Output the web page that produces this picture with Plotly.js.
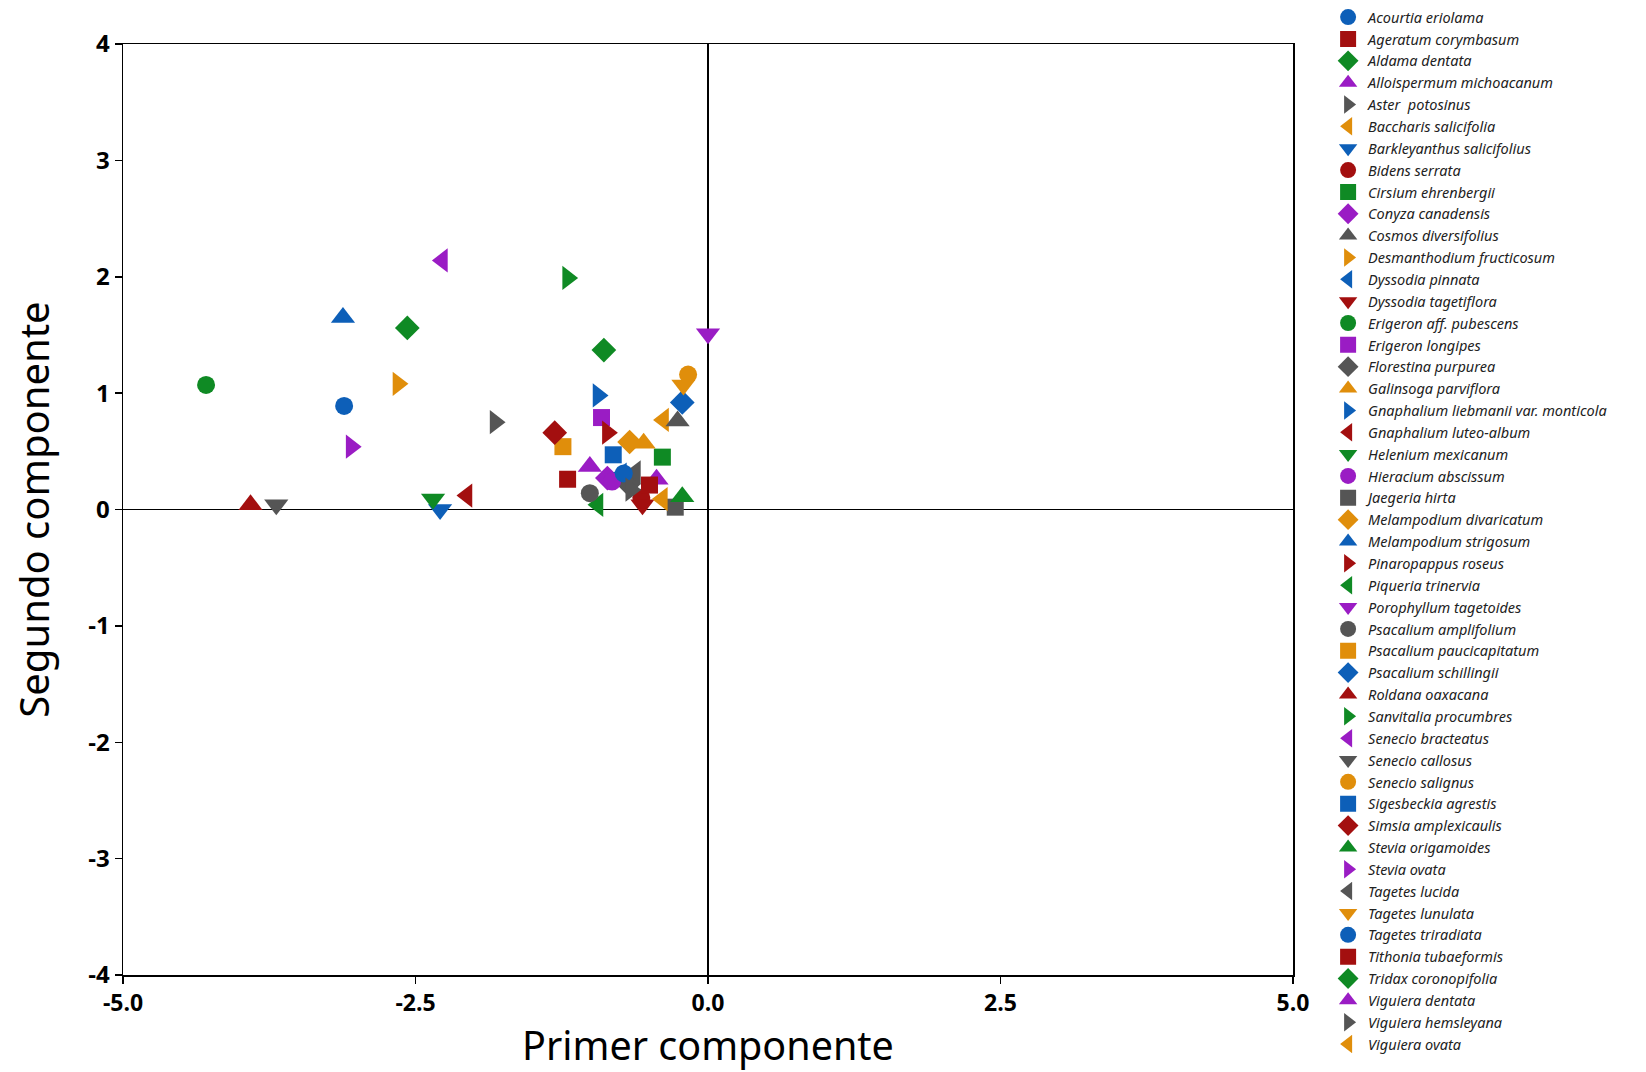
<!DOCTYPE html>
<html>
<head>
<meta charset="utf-8">
<script src="https://cdn.plot.ly/plotly-3.0.1.min.js"></script>
<style>html,body{margin:0;padding:0;background:#fff;}#chart{width:1646px;height:1072px;}</style>
</head>
<body>
<div id="chart"></div>
<script>
const species = [
  "Acourtia eriolama","Ageratum corymbasum","Aldama dentata","Alloispermum michoacanum",
  "Aster  potosinus","Baccharis salicifolia","Barkleyanthus salicifolius","Bidens serrata",
  "Cirsium ehrenbergii","Conyza canadensis","Cosmos diversifolius","Desmanthodium fructicosum",
  "Dyssodia pinnata","Dyssodia tagetiflora","Erigeron aff. pubescens","Erigeron longipes",
  "Florestina purpurea","Galinsoga parviflora","Gnaphalium liebmanii var. monticola","Gnaphalium luteo-album",
  "Helenium mexicanum","Hieracium abscissum","Jaegeria hirta","Melampodium divaricatum",
  "Melampodium strigosum","Pinaropappus roseus","Piqueria trinervia","Porophyllum tagetoides",
  "Psacalium amplifolium","Psacalium paucicapitatum","Psacalium schillingii","Roldana oaxacana",
  "Sanvitalia procumbres","Senecio bracteatus","Senecio callosus","Senecio salignus",
  "Sigesbeckia agrestis","Simsia amplexicaulis","Stevia origamoides","Stevia ovata",
  "Tagetes lucida","Tagetes lunulata","Tagetes triradiata","Tithonia tubaeformis",
  "Tridax coronopifolia","Viguiera dentata","Viguiera hemsleyana","Viguiera ovata"
];
const primerComponente = [
  -3.11,-1.20,-2.57,-0.44,
  -1.82,-0.38,-2.29,-0.57,
  -0.39,-0.86,-0.26,-2.65,
  -0.74,-0.56,-4.29,-0.91,
  -0.68,-0.55,-0.94,-2.06,
  -2.35,-0.82,-0.28,-0.67,
  -3.12,-0.86,-0.94,0.00,
  -1.01,-1.24,-0.22,-3.91,
  -1.20,-2.27,-3.69,-0.17,
  -0.81,-1.31,-0.22,-3.05,
  -0.62,-0.21,-0.72,-0.50,
  -0.89,-1.01,-0.66,-0.39
];
const segundoComponente = [
  0.89,0.26,1.56,0.26,
  0.75,0.77,0.00,0.10,
  0.45,0.27,0.76,1.08,
  0.30,0.04,1.07,0.79,
  0.22,0.57,0.98,0.12,
  0.09,0.24,0.02,0.58,
  1.65,0.66,0.04,1.51,
  0.14,0.54,0.92,0.04,
  1.99,2.14,0.04,1.16,
  0.47,0.66,0.11,0.54,
  0.32,1.07,0.31,0.21,
  1.37,0.37,0.17,0.09
];
const xTicks = [-5.0,-2.5,0.0,2.5,5.0];
const xTickText = ["-5.0","-2.5","0.0","2.5","5.0"];
const yTicks = [-4,-3,-2,-1,0,1,2,3,4];
const yTickText = ["-4","-3","-2","-1","0","1","2","3","4"];

// style cycles
const palette = ["#0d5fb8","#a30f0f","#0f8a24","#9a1cc4","#555555","#e08e0b"];
const shapes = ["circle","square","diamond","triangle-up","triangle-right","triangle-left","triangle-down"];
const shapeSize = {"circle":18,"square":17,"diamond":19,"triangle-up":21,"triangle-right":21,"triangle-left":21,"triangle-down":21};

const traces = species.map((name,i)=>({
  type:"scatter", mode:"markers", name:name,
  x:[primerComponente[i]], y:[segundoComponente[i]],
  marker:{symbol:shapes[i%7], color:palette[i%6], size:shapeSize[shapes[i%7]], line:{width:0}}
}));

const layout = {
  width:1646, height:1072,
  paper_bgcolor:"#fff", plot_bgcolor:"#fff",
  margin:{l:123, r:353, t:44, b:97, autoexpand:false},
  showlegend:true,
  legend:{x:1.03, xanchor:"left", y:1.046, yanchor:"top", maxheight:1072,
    font:{family:"Noto Sans", size:14.5, color:"#222", style:"italic"},
    tracegroupgap:0, itemwidth:30, bgcolor:"rgba(0,0,0,0)"},
  xaxis:{range:[-5,5], tickvals:xTicks, ticktext:xTickText,
    showgrid:false, zeroline:true, zerolinecolor:"#000", zerolinewidth:1.5,
    showline:true, mirror:true, linecolor:"#000", linewidth:1.5,
    ticks:"outside", ticklen:7, tickcolor:"#000", tickwidth:1.5,
    tickfont:{family:"Open Sans", size:23, color:"#000", weight:"bold"},
    title:{text:"Primer componente", font:{family:"Noto Sans", size:39.5, color:"#000"}, standoff:10}},
  yaxis:{range:[-4,4], tickvals:yTicks, ticktext:yTickText,
    showgrid:false, zeroline:true, zerolinecolor:"#000", zerolinewidth:1.5,
    showline:true, mirror:true, linecolor:"#000", linewidth:1.5,
    ticks:"outside", ticklen:7, tickcolor:"#000", tickwidth:1.5,
    tickfont:{family:"Open Sans", size:24, color:"#000", weight:"bold"},
    title:{text:"Segundo componente", font:{family:"Noto Sans", size:40, color:"#000"}, standoff:26}}
};
Plotly.newPlot("chart", traces, layout, {displayModeBar:false, staticPlot:true});
</script>
</body>
</html>
